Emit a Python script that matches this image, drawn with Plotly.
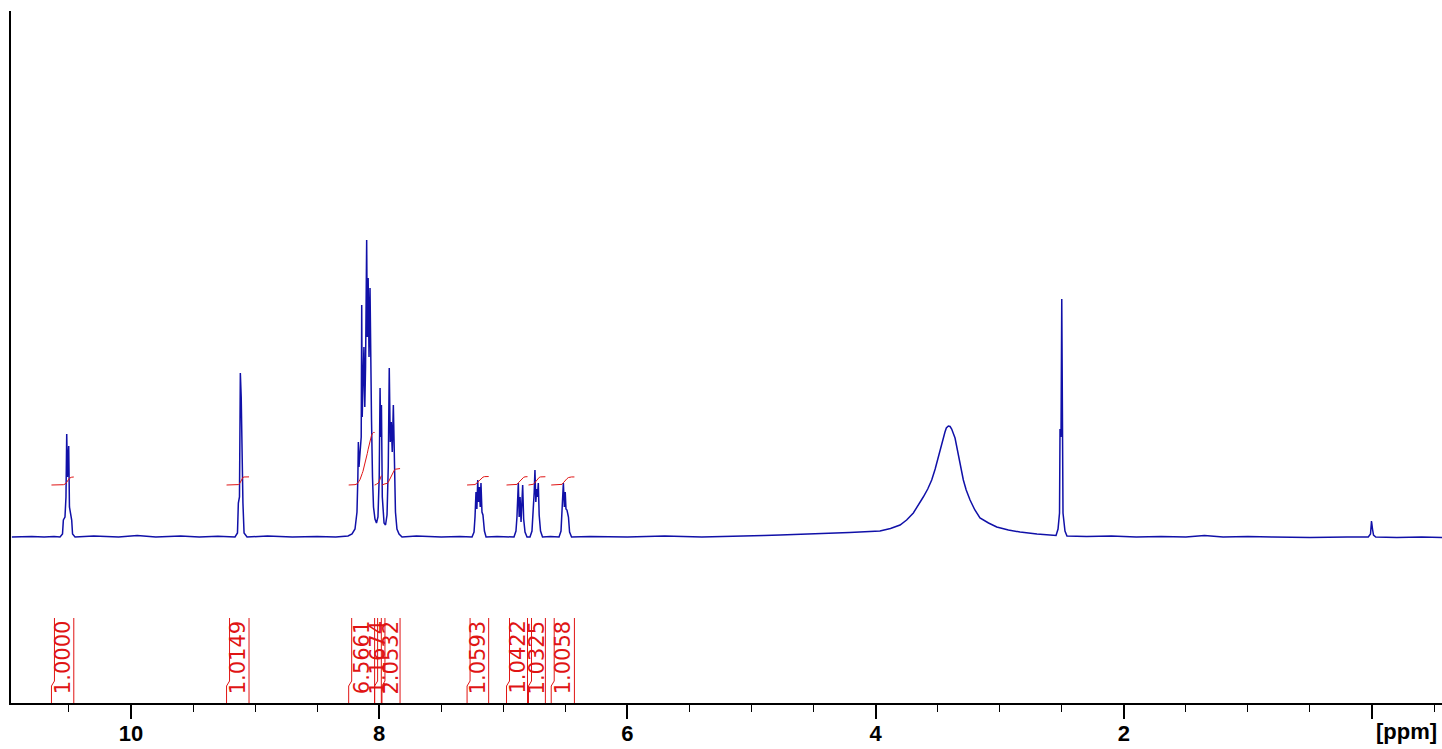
import numpy as np
import plotly.graph_objects as go

# ---------------- data ----------------
# 1H NMR trace: chemical shift (ppm) and intensity (arbitrary units)
spectrum_ppm = [
    10.96, 10.80, 10.70, 10.62,
    10.572, 10.552, 10.545, 10.532, 10.524, 10.518, 10.512, 10.502, 10.496, 10.478, 10.471, 10.451,
    10.30, 10.10, 9.95, 9.80, 9.60, 9.45, 9.30,
    9.162, 9.142, 9.135, 9.126, 9.119, 9.112, 9.106, 9.098, 9.089, 9.065,
    8.90, 8.70, 8.50, 8.35,
    8.251, 8.219, 8.195, 8.179, 8.172, 8.168, 8.163, 8.155, 8.145, 8.141, 8.137, 8.131, 8.123,
    8.116, 8.110, 8.101, 8.096, 8.089, 8.082, 8.074, 8.068, 8.062, 8.054, 8.046, 8.034, 8.022,
    8.010, 8.000, 7.993, 7.988, 7.982, 7.975, 7.961, 7.949, 7.937, 7.927, 7.919, 7.911, 7.903,
    7.895, 7.886, 7.878, 7.869, 7.857, 7.840, 7.816,
    7.70, 7.50, 7.35,
    7.252, 7.236, 7.228, 7.220, 7.213, 7.206, 7.200, 7.193, 7.186, 7.180, 7.172, 7.164, 7.152, 7.139,
    7.05, 6.98,
    6.914, 6.898, 6.890, 6.879, 6.872, 6.865, 6.857, 6.850, 6.844, 6.836, 6.825, 6.809,
    6.785, 6.769, 6.758, 6.751, 6.745, 6.738, 6.731, 6.725, 6.718, 6.711, 6.700, 6.684,
    6.62,
    6.551, 6.535, 6.527, 6.516, 6.508, 6.501, 6.495, 6.487, 6.475, 6.466, 6.450,
    6.30, 6.00, 5.70, 5.40, 5.10, 4.90,
    4.77, 4.45, 4.21, 3.965, 3.88, 3.803, 3.75, 3.696, 3.66, 3.616, 3.58, 3.548, 3.52, 3.495,
    3.47, 3.441, 3.43, 3.414, 3.40, 3.387, 3.36, 3.334, 3.31, 3.293, 3.27, 3.239, 3.20, 3.159,
    3.09, 3.024, 2.93, 2.836, 2.70, 2.621, 2.57,
    2.546, 2.530, 2.518, 2.514, 2.506, 2.500, 2.494, 2.490, 2.474, 2.458,
    2.30, 2.10, 1.90, 1.70, 1.50, 1.35, 1.20, 1.00, 0.80, 0.50, 0.20,
    0.030, 0.012, 0.004, -0.004, -0.012, -0.030,
    -0.20, -0.40, -0.57,
]
spectrum_intensity = [
    0, 0.5, 0, 0.5,
    0, 3, 17, 20, 40, 103, 60, 91, 30, 17, 3, 0,
    1, 0, 1.5, 0, 1, 0, 0.8,
    0, 4, 34, 40, 164, 140, 60, 34, 4, 0,
    1, 0, 0.5, 0,
    1, 3, 8, 25, 60, 95, 70, 85, 100, 232, 120, 150, 190,
    130, 170, 297, 200, 259, 180, 249, 150, 117, 60, 30, 18, 14,
    20, 60, 149, 100, 132, 40, 14, 12, 22, 70, 169, 95, 115,
    85, 132, 60, 25, 8, 3, 0,
    1, 0, 0.5,
    0, 5, 20, 45, 28, 57, 35, 50, 30, 54, 25, 22, 6, 0,
    0.5, 0,
    0, 6, 20, 54, 20, 40, 15, 35, 52, 18, 5, 0,
    0, 6, 25, 45, 67, 35, 48, 40, 54, 22, 6, 0,
    0.5,
    0, 6, 22, 54, 30, 45, 28, 27, 20, 5, 0,
    0.5, 0, 1, 0, 0.5, 1.5,
    2, 3, 4.5, 6, 8.5, 12, 17, 24, 31, 40, 48, 57, 68, 80,
    93, 105, 109, 111, 110.5, 108, 99, 82, 68, 57, 47, 37, 27, 19,
    14, 10, 7, 5, 3, 2, 1.5,
    1.5, 8, 24, 108, 100, 238, 110, 24, 6, 1,
    0.5, 1, 0, 0.5, 0, 1.5, 0, 0.5, 0, -0.5, 0,
    0, 3, 16, 8, 2, 0,
    -0.5, 0, -0.5,
]

# integration regions (ppm, from high to low) and their values
integral_start = [10.641, 9.230, 8.246, 8.037, 7.978, 7.292, 6.974, 6.797, 6.614]
integral_end = [10.461, 9.049, 8.037, 7.983, 7.832, 7.118, 6.805, 6.661, 6.427]
integral_values = [1.0000, 1.0149, 6.5661, 1.1674, 2.0532, 1.0593, 1.0422, 1.0325, 1.0058]

tick_values = [10, 8, 6, 4, 2, 0]
tick_labels = ["10", "8", "6", "4", "2", ""]
axis_unit_label = "[ppm]"

# ---------------- style constants ----------------
SPEC_COLOR = "#1010a8"
INT_COLOR = "#e01414"
INT_BASE = 52          # height of integral curves' start above baseline
INT_SCALE = 8          # rise per integral unit
LBL_BOTTOM, LBL_TOP = -166, -81
X_RANGE = [10.967, -0.564]
Y_RANGE = [-166, 526]
PX_PER_PPM = 124.1

fig = go.Figure()

fig.add_trace(go.Scatter(x=spectrum_ppm, y=spectrum_intensity, mode="lines",
                         line=dict(color=SPEC_COLOR, width=1.5), hoverinfo="skip",
                         showlegend=False))

sp_x = np.array(spectrum_ppm)
sp_y = np.array(spectrum_intensity)
for s, e, v in zip(integral_start, integral_end, integral_values):
    mask = (sp_x < s) & (sp_x > e)
    xs = sp_x[mask]
    ys = np.clip(sp_y[mask], 0, None)
    cum = [0.0]
    for i in range(1, len(xs)):
        cum.append(cum[-1] + 0.5 * (ys[i] + ys[i - 1]) * (xs[i - 1] - xs[i]))
    cum = np.array(cum)
    tot = cum[-1] if cum[-1] > 0 else 1
    cx = [s] + list(xs) + [e]
    cy = [0] + list(cum / tot) + [1]
    cy = [INT_BASE + INT_SCALE * v * c for c in cy]
    fig.add_trace(go.Scatter(x=cx, y=cy, mode="lines",
                             line=dict(color=INT_COLOR, width=1), hoverinfo="skip",
                             showlegend=False))
    # bracket lines of integral labels
    jog = 3 / PX_PER_PPM
    fig.add_trace(go.Scatter(x=[s, s, s - jog, s - jog], y=[LBL_BOTTOM, -149, -144, LBL_TOP],
                             mode="lines", line=dict(color=INT_COLOR, width=1),
                             hoverinfo="skip", showlegend=False))
    fig.add_trace(go.Scatter(x=[e, e], y=[LBL_BOTTOM, LBL_TOP],
                             mode="lines", line=dict(color=INT_COLOR, width=1),
                             hoverinfo="skip", showlegend=False))
    fig.add_annotation(x=(s + e) / 2, y=-120.5, xref="x", yref="y", text=f"{v:.4f}",
                       textangle=-90, showarrow=False,
                       font=dict(family="DejaVu Sans, Arial", size=21, color=INT_COLOR))

fig.add_annotation(x=-0.28, y=-0.041, xref="x", yref="paper", text=axis_unit_label,
                   showarrow=False, yanchor="middle",
                   font=dict(family="Liberation Sans, Arial", size=22, color="black", weight="bold"))

fig.update_layout(
    width=1442, height=749,
    margin=dict(l=11, r=0, t=11, b=46),
    paper_bgcolor="white", plot_bgcolor="white",
    xaxis=dict(range=X_RANGE, showline=True, linecolor="black", linewidth=1.5,
               showgrid=False, zeroline=False, tickmode="array",
               tickvals=tick_values, ticktext=tick_labels,
               ticks="outside", ticklen=14, tickwidth=1.5, tickcolor="black",
               ticklabelstandoff=-4,
               tickfont=dict(family="Liberation Sans, Arial", size=22, color="black", weight="bold"),
               minor=dict(tickmode="linear", tick0=0, dtick=0.5, ticks="outside",
                          ticklen=7, tickwidth=1, tickcolor="black", showgrid=False)),
    yaxis=dict(range=Y_RANGE, showline=True, linecolor="black", linewidth=2,
               showgrid=False, zeroline=False, showticklabels=False, ticks=""),
)

fig.write_html("out.html", config={"displayModeBar": False},
               post_script="document.body.style.margin='0px';document.body.style.overflow='hidden';")
